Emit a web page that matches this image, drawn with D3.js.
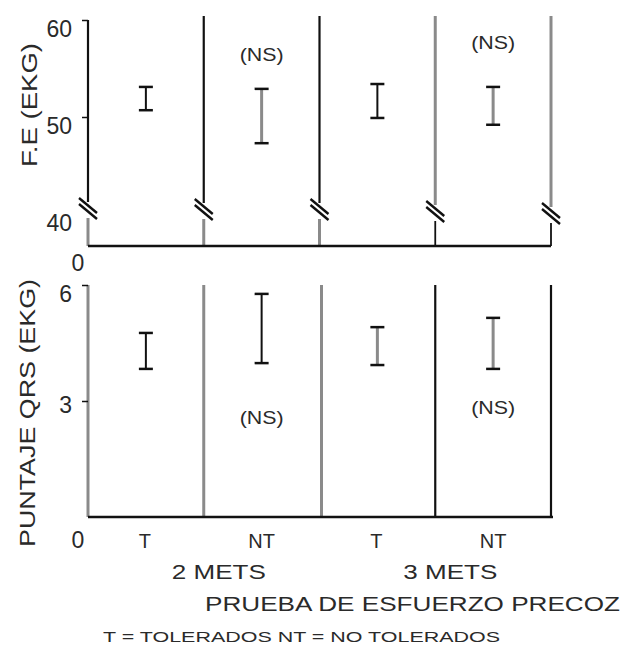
<!DOCTYPE html>
<html lang="es">
<head>
  <meta charset="utf-8">
    <title>F.E y puntaje QRS</title>
    <script type="text/javascript" src="https://d3js.org/d3.v7.min.js"></script>
    <style type="text/css">
      body { margin: 0; background: #fff; }
      text { font-family: "Liberation Sans", Arial, sans-serif; fill: #2a2a2a; }
    </style>
</head>
<body>
  <script type="text/javascript">

        // categories: T / NT inside each METS group
        var cats = ["2T", "2NT", "3T", "3NT"];
        var catLabels = ["T", "NT", "T", "NT"];
        var metsLabels = ["2 METS", "3 METS"];

        // F.E (EKG) ranges
        var feLow  = [50.7, 47.3, 49.9, 49.2];
        var feHigh = [53.1, 52.9, 53.4, 53.1];
        var feTicks = [60, 50, 40];

        // Puntaje QRS (EKG) ranges
        var qrsLow  = [3.83, 3.98, 3.93, 3.83];
        var qrsHigh = [4.76, 5.77, 4.91, 5.15];
        var qrsTicks = [6, 3];

        var nsFlags = [false, true, false, true];

        var W = 623, H = 647;
        var black = "#111", grey = "#8a8a8a";

        var svg = d3.select("body").append("svg")
            .attr("width", W).attr("height", H);

        var x = d3.scaleBand().domain(cats).range([88, 551]);
        var cx = function(c) { return x(c) + x.bandwidth() / 2; };
        var edges = cats.map(function(c) { return x(c); }).concat([x.range()[1]]);

        var yFE = d3.scaleLinear().domain([40, 60]).range([214, 20]);
        var yQRS = d3.scaleLinear().domain([0, 6]).range([517, 285]);
        var feBase = 246;

        // ---------- top panel ----------
        var topG = svg.append("g");
        var topUpper = [black, black, black, grey, grey];
        var topLower = [grey, grey, grey, black, black];
        var breakY = [210, 211, 211, 213, 215];

        edges.forEach(function(ex, i) {
            topG.append("line")
                .attr("x1", ex).attr("x2", ex)
                .attr("y1", i == 0 ? yFE(60) : 16).attr("y2", breakY[i] - 8)
                .attr("stroke", topUpper[i]).attr("stroke-width", i >= 3 ? 3 : 2.2);
            topG.append("line")
                .attr("x1", ex).attr("x2", ex)
                .attr("y1", breakY[i] + 8).attr("y2", feBase)
                .attr("stroke", topLower[i]).attr("stroke-width", i >= 3 ? 1.8 : 3);
            [-3, 3].forEach(function(o) {
                topG.append("line")
                    .attr("x1", ex - 9).attr("y1", breakY[i] + o - 9)
                    .attr("x2", ex + 9).attr("y2", breakY[i] + o + 6)
                    .attr("stroke", black).attr("stroke-width", 2.4);
            });
        });

        topG.append("line")
            .attr("x1", 88).attr("x2", 551)
            .attr("y1", feBase).attr("y2", feBase)
            .attr("stroke", black).attr("stroke-width", 2.5);

        var feAxis = topG.append("g")
            .attr("transform", "translate(88,0)")
            .call(d3.axisLeft(yFE).tickValues(feTicks).tickSize(6).tickSizeOuter(0).tickPadding(10));
        feAxis.select(".domain").remove();
        feAxis.selectAll(".tick line").attr("stroke", black).attr("stroke-width", 1.5)
            .filter(function(d) { return d == 40; }).remove();
        feAxis.selectAll(".tick text")
            .attr("font-size", 23).attr("font-family", null).attr("fill", "#2a2a2a")
            .attr("dy", "0.72em");

        topG.append("text").attr("x", 78).attr("y", 271)
            .attr("text-anchor", "middle").attr("font-size", 23).text("0");

        topG.append("text")
            .attr("transform", "translate(37,105) rotate(-90)")
            .attr("text-anchor", "middle").attr("font-size", 22).attr("fill", "#444")
            .attr("textLength", 124).attr("lengthAdjust", "spacingAndGlyphs")
            .text("F.E (EKG)");

        var feBarColor = [black, grey, black, grey];
        cats.forEach(function(c, i) {
            var g = topG.append("g");
            g.append("line")
                .attr("x1", cx(c)).attr("x2", cx(c))
                .attr("y1", yFE(feHigh[i])).attr("y2", yFE(feLow[i]))
                .attr("stroke", feBarColor[i]).attr("stroke-width", i % 2 ? 3 : 2);
            [feHigh[i], feLow[i]].forEach(function(v) {
                g.append("line")
                    .attr("x1", cx(c) - 7).attr("x2", cx(c) + 7)
                    .attr("y1", yFE(v)).attr("y2", yFE(v))
                    .attr("stroke", black).attr("stroke-width", 2.5);
            });
        });

        var feNsOffset = [0, -28, 0, -38];
        cats.forEach(function(c, i) {
            if (!nsFlags[i]) return;
            topG.append("text")
                .attr("x", cx(c)).attr("y", yFE(feHigh[i]) + feNsOffset[i])
                .attr("text-anchor", "middle").attr("font-size", 19).attr("fill", "#444")
                .attr("textLength", 44).attr("lengthAdjust", "spacingAndGlyphs")
                .text("(NS)");
        });

        // ---------- bottom panel ----------
        var botG = svg.append("g");
        var botColor = [grey, grey, grey, black, black];
        edges.forEach(function(ex, i) {
            botG.append("line")
                .attr("x1", i == 2 ? ex + 2 : ex).attr("x2", i == 2 ? ex + 2 : ex)
                .attr("y1", yQRS(6)).attr("y2", yQRS(0))
                .attr("stroke", botColor[i]).attr("stroke-width", i >= 3 ? 2.2 : 3);
        });
        botG.append("line")
            .attr("x1", 88).attr("x2", 553)
            .attr("y1", yQRS(0)).attr("y2", yQRS(0))
            .attr("stroke", black).attr("stroke-width", 2.5);

        var qAxis = botG.append("g")
            .attr("transform", "translate(88,0)")
            .call(d3.axisLeft(yQRS).tickValues(qrsTicks).tickSize(6).tickSizeOuter(0).tickPadding(10)
                .tickFormat(d3.format("d")));
        qAxis.select(".domain").remove();
        qAxis.selectAll(".tick line").attr("stroke", black).attr("stroke-width", 1.5);
        qAxis.selectAll(".tick text")
            .attr("font-size", 23).attr("font-family", null).attr("fill", "#2a2a2a")
            .attr("dy", function(d) { return d == 6 ? "0.72em" : "0.5em"; });

        botG.append("text").attr("x", 78).attr("y", 548)
            .attr("text-anchor", "middle").attr("font-size", 23).text("0");

        botG.append("text")
            .attr("transform", "translate(35,413) rotate(-90)")
            .attr("text-anchor", "middle").attr("font-size", 22).attr("fill", "#444")
            .attr("textLength", 268).attr("lengthAdjust", "spacingAndGlyphs")
            .text("PUNTAJE QRS (EKG)");

        var qBarColor = [black, black, grey, grey];
        cats.forEach(function(c, i) {
            var g = botG.append("g");
            g.append("line")
                .attr("x1", cx(c)).attr("x2", cx(c))
                .attr("y1", yQRS(qrsHigh[i])).attr("y2", yQRS(qrsLow[i]))
                .attr("stroke", qBarColor[i]).attr("stroke-width", i >= 2 ? 3 : 2);
            [qrsHigh[i], qrsLow[i]].forEach(function(v) {
                g.append("line")
                    .attr("x1", cx(c) - 7).attr("x2", cx(c) + 7)
                    .attr("y1", yQRS(v)).attr("y2", yQRS(v))
                    .attr("stroke", black).attr("stroke-width", 2.5);
            });
        });

        var qNsOffset = [0, 61, 0, 45];
        cats.forEach(function(c, i) {
            if (!nsFlags[i]) return;
            botG.append("text")
                .attr("x", cx(c)).attr("y", yQRS(qrsLow[i]) + qNsOffset[i])
                .attr("text-anchor", "middle").attr("font-size", 19).attr("fill", "#444")
                .attr("textLength", 44).attr("lengthAdjust", "spacingAndGlyphs")
                .text("(NS)");
        });

        // ---------- x labels ----------
        cats.forEach(function(c, i) {
            svg.append("text")
                .attr("x", cx(c) - (i % 2 ? 0 : 1)).attr("y", 548)
                .attr("text-anchor", "middle").attr("font-size", 20).attr("fill", "#444")
                .text(catLabels[i]);
        });

        metsLabels.forEach(function(m, i) {
            svg.append("text")
                .attr("x", (cx(cats[i * 2]) + cx(cats[i * 2 + 1])) / 2 + 15)
                .attr("y", 579)
                .attr("text-anchor", "middle").attr("font-size", 21)
                .attr("textLength", 94).attr("lengthAdjust", "spacingAndGlyphs")
                .text(m);
        });

        svg.append("text")
            .attr("x", 205).attr("y", 611).attr("font-size", 21).attr("fill", "#444")
            .attr("textLength", 415).attr("lengthAdjust", "spacingAndGlyphs")
            .text("PRUEBA DE ESFUERZO PRECOZ");

        svg.append("text")
            .attr("x", 103).attr("y", 642).attr("font-size", 15).attr("fill", "#444")
            .attr("textLength", 397).attr("lengthAdjust", "spacingAndGlyphs")
            .text("T = TOLERADOS  NT = NO TOLERADOS");

  </script>
</body>
</html>
